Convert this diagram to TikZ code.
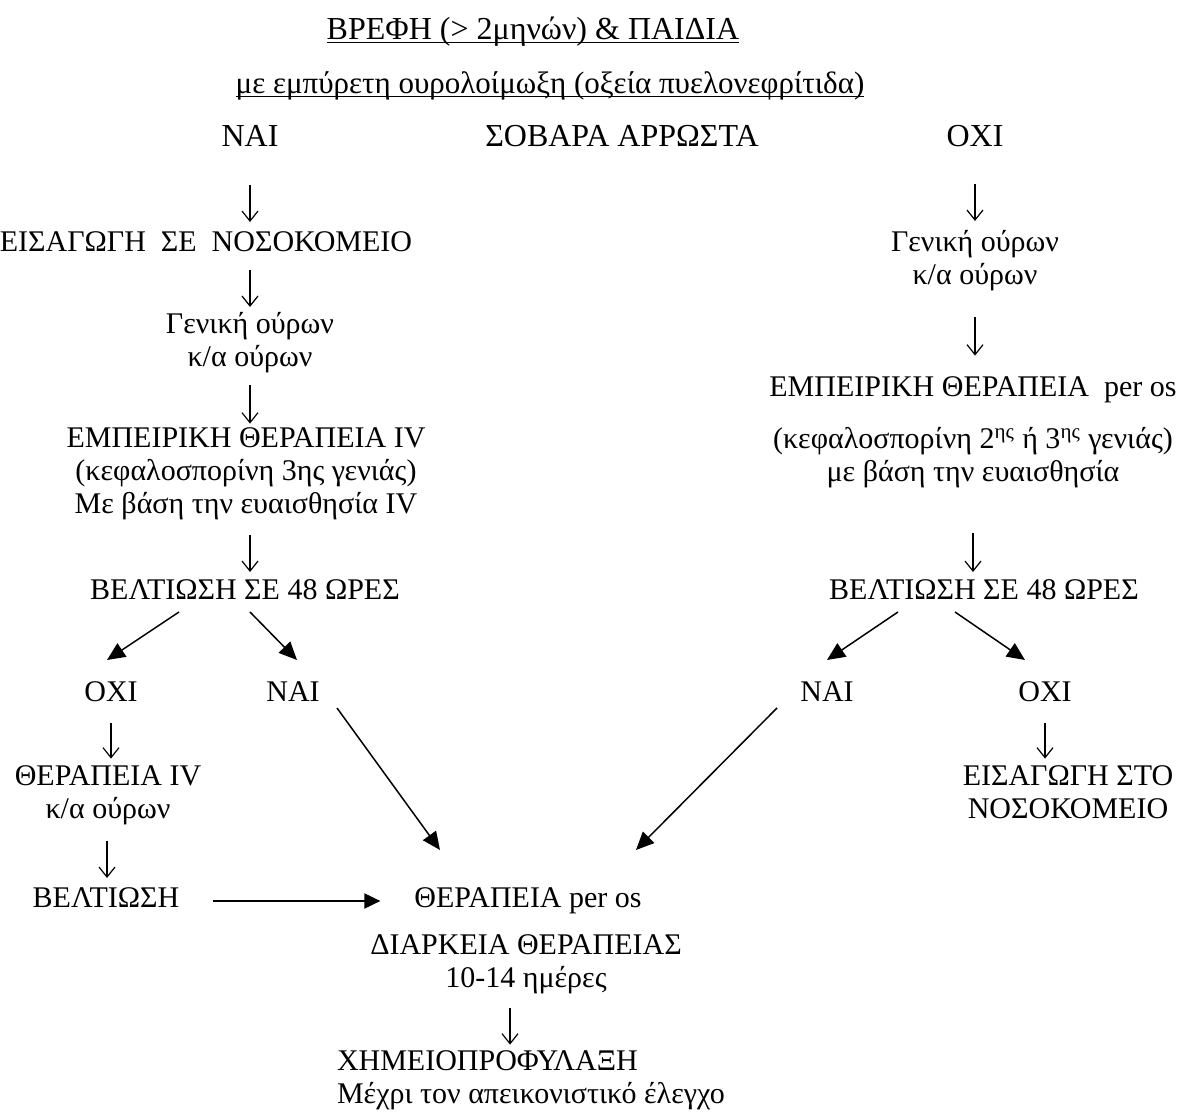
\documentclass[tikz,border=0pt]{standalone}
\usepackage{fontspec}
\setmainfont{Liberation Serif}
\usetikzlibrary{arrows.meta,calc}
\newcommand{\ulined}[1]{\setbox0=\hbox{#1}\rlap{\rule[-1.8pt]{\wd0}{0.7pt}}\box0}
\begin{document}
\begin{tikzpicture}[x=0.5pt,y=-0.5pt,
  txt/.style={inner sep=0pt, outer sep=0pt, font=\fontsize{15}{16.5}\selectfont, align=center,
    execute at begin node=\strut, execute at end node=\strut},
  big/.style={txt, font=\fontsize{16}{16.5}\selectfont},
  darr/.style={-{Straight Barb[length=5pt,width=8pt]}, line width=0.6pt},
  diag/.style={-{Triangle[length=9pt,width=8pt]}, line width=0.75pt},
  harr/.style={-{Triangle[length=8pt,width=7.5pt]}, line width=1pt}]
\useasboundingbox (0,0) rectangle (1200,1112);

% title
\node[big] (t1) at (533,33) {\ulined{ΒΡΕΦΗ (> 2μηνών) \& ΠΑΙΔΙΑ}};
\node[big, font=\fontsize{15.5}{16.5}\selectfont] (t2) at (550,87) {\ulined{με εμπύρετη ουρολοίμωξη (οξεία πυελονεφρίτιδα)}};
\node[big] (nai1) at (250,140) {ΝΑΙ};
\node[big] (sob) at (622,140) {ΣΟΒΑΡΑ ΑΡΡΩΣΤΑ};
\node[big] (oxi1) at (975,140) {ΟΧΙ};

% left column
\node[txt] (eis) at (206,245) {ΕΙΣΑΓΩΓΗ\ \ ΣΕ\ \ ΝΟΣΟΚΟΜΕΙΟ};
\node[txt] (gen1) at (250,344.5) {Γενική ούρων\\κ/α ούρων};
\node[txt] (emp1) at (246,476) {ΕΜΠΕΙΡΙΚΗ ΘΕΡΑΠΕΙΑ IV\\(κεφαλοσπορίνη 3ης γενιάς)\\Με βάση την ευαισθησία IV};
\node[txt] (bel1) at (245,593) {ΒΕΛΤΙΩΣΗ ΣΕ 48 ΩΡΕΣ};
\node[txt] (oxi2) at (111,695) {ΟΧΙ};
\node[txt] (nai2) at (293,695) {ΝΑΙ};
\node[txt] (ther) at (108,797.5) {ΘΕΡΑΠΕΙΑ IV\\κ/α ούρων};
\node[txt] (belt) at (106,901) {ΒΕΛΤΙΩΣΗ};

% bottom
\node[txt] (peros) at (528,901) {ΘΕΡΑΠΕΙΑ per os};
\node[txt] (diar) at (526,966.5) {ΔΙΑΡΚΕΙΑ ΘΕΡΑΠΕΙΑΣ\\10-14 ημέρες};
\node[txt, anchor=west, align=left] (chem) at (337,1082.5) {ΧΗΜΕΙΟΠΡΟΦΥΛΑΞΗ\\Μέχρι τον απεικονιστικό έλεγχο};

% right column
\node[txt] (gen2) at (975,262.5) {Γενική ούρων\\κ/α ούρων};
\node[txt] (emp2) at (973,434.5) {ΕΜΠΕΙΡΙΚΗ ΘΕΡΑΠΕΙΑ\ \ per os\\[9.5pt](κεφαλοσπορίνη 2\textsuperscript{ης} ή 3\textsuperscript{ης} γενιάς)\\με βάση την ευαισθησία};
\node[txt] (bel2) at (984,593) {ΒΕΛΤΙΩΣΗ ΣΕ 48 ΩΡΕΣ};
\node[txt] (nai3) at (827,695) {ΝΑΙ};
\node[txt] (oxi3) at (1045,695) {ΟΧΙ};
\node[txt] (eis2) at (1068,797.5) {ΕΙΣΑΓΩΓΗ ΣΤΟ\\ΝΟΣΟΚΟΜΕΙΟ};

% vertical arrows
\draw[darr, shorten <=14.25pt, shorten >=3.25pt] (nai1.south) -- (nai1.south |- eis.north);
\draw[darr, shorten <=4.25pt, shorten >=2.75pt] (eis.south -| gen1.north) -- (gen1.north);
\draw[darr, shorten <=4.25pt, shorten >=2.25pt] (gen1.south) -- (gen1.south |- emp1.north);
\draw[darr, shorten <=5.75pt, shorten >=2.25pt] (emp1.south -| gen1.south) -- (gen1.south |- bel1.north);
\draw[darr, shorten <=5.75pt, shorten >=3.75pt] (oxi2.south) -- (oxi2.south |- ther.north);
\draw[darr, shorten <=6.25pt, shorten >=3.25pt] ([xshift=-0.5pt]ther.south) -- ([xshift=-0.5pt]ther.south |- belt.north);
\draw[darr, shorten <=5.25pt, shorten >=3.25pt] ([xshift=-8pt]diar.south) -- ([xshift=-8pt]diar.south |- chem.north);
\draw[darr, shorten <=13.75pt, shorten >=4.75pt] (oxi1.south) -- (oxi1.south |- gen2.north);
\draw[darr, shorten <=11.25pt, shorten >=10.75pt] (gen2.south) -- (gen2.south |- emp2.north);
\draw[darr, shorten <=20.75pt, shorten >=2.25pt] (emp2.south) -- (emp2.south |- bel2.north);
\draw[darr, shorten <=5.75pt, shorten >=3.75pt] (oxi3.south) -- (oxi3.south |- eis2.north);

% diagonal arrows
\draw[diag] ([shift={(-66,2.5)}]bel1.south) -- ([shift={(-4,-18.5)}]oxi2.north);
\draw[diag] ([shift={(5,2.5)}]bel1.south) -- ([shift={(4,-18.5)}]nai2.north);
\draw[diag] ([shift={(44,-3.5)}]nai2.south) -- ([shift={(-88,-34.5)}]peros.north);
\draw[diag] ([shift={(-50,-3.5)}]nai3.south) -- ([shift={(108,-34.5)}]peros.north);
\draw[diag] ([shift={(-86,2.5)}]bel2.south) -- ([shift={(0,-18.5)}]nai3.north);
\draw[diag] ([shift={(-29,2.5)}]bel2.south) -- ([shift={(-20,-18.5)}]oxi3.north);
\draw[harr, shorten <=17pt, shorten >=17pt] (belt.east) -- (peros.west);
\end{tikzpicture}
\end{document}
